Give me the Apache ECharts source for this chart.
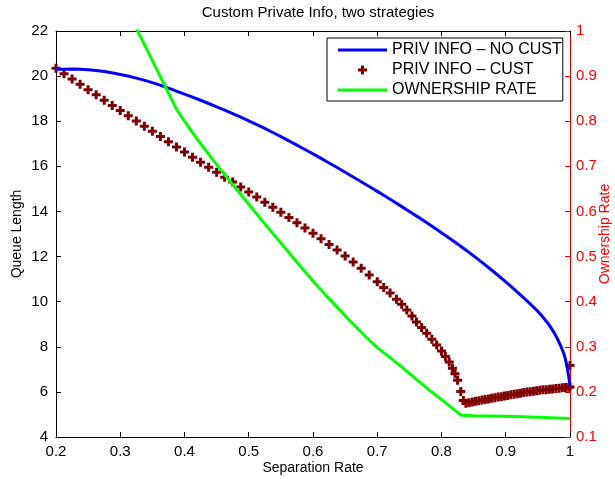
<!DOCTYPE html>
<html>
<head>
<meta charset="utf-8">
<script src="https://cdn.jsdelivr.net/npm/echarts@6/dist/echarts.min.js"></script>
<style>
  html, body { margin: 0; padding: 0; background: #fff; }
  #chart { width: 615px; height: 479px; }
</style>
</head>
<body>
<div id="chart"></div>
<script>
// Queue length without customisation (left axis)
const noCustX = [0.20, 0.225, 0.25, 0.275, 0.30, 0.325, 0.35, 0.375, 0.40, 0.425, 0.45, 0.475,
  0.50, 0.525, 0.55, 0.575, 0.60, 0.625, 0.65, 0.675, 0.70, 0.725, 0.75, 0.775, 0.80, 0.825,
  0.85, 0.875, 0.90, 0.925, 0.95, 0.96, 0.97, 0.98, 0.99, 0.995, 1.00];
const noCustQueue = [20.30, 20.31, 20.28, 20.20, 20.07, 19.91, 19.71, 19.47, 19.20, 18.93, 18.64, 18.34,
  18.02, 17.68, 17.32, 16.94, 16.55, 16.15, 15.74, 15.32, 14.89, 14.45, 14.00, 13.54, 13.06, 12.56,
  12.03, 11.47, 10.88, 10.25, 9.57, 9.24, 8.86, 8.38, 7.72, 7.18, 6.30];

// Queue length with customisation (left axis, markers)
const custX = [0.2000, 0.2125, 0.2250, 0.2375, 0.2500, 0.2625, 0.2750, 0.2875, 0.3000, 0.3125,
  0.3250, 0.3375, 0.3500, 0.3625, 0.3750, 0.3875, 0.4000, 0.4125, 0.4250, 0.4375, 0.4500, 0.4625,
  0.4750, 0.4875, 0.5000, 0.5125, 0.5250, 0.5375, 0.5500, 0.5625, 0.5750, 0.5875, 0.6000, 0.6125,
  0.6250, 0.6375, 0.6500, 0.6625, 0.6750, 0.6875, 0.7000, 0.7100, 0.7200, 0.7300, 0.7380, 0.7460,
  0.7540, 0.7610, 0.7690, 0.7770, 0.7850, 0.7925, 0.8000, 0.8060, 0.8120, 0.8170, 0.8210, 0.8250,
  0.8300, 0.8340,
  0.838, 0.843, 0.848, 0.853, 0.858, 0.863, 0.868, 0.873, 0.878, 0.883, 0.888, 0.893, 0.898, 0.903,
  0.908, 0.913, 0.918, 0.923, 0.928, 0.933, 0.938, 0.943, 0.948, 0.953, 0.958, 0.963, 0.968, 0.973,
  0.978, 0.983, 0.988, 0.993, 0.998, 1.000, 1.000];
const custQueue = [20.35, 20.11, 19.87, 19.64, 19.40, 19.17, 18.93, 18.70, 18.47, 18.24,
  18.01, 17.78, 17.55, 17.32, 17.09, 16.86, 16.63, 16.40, 16.18, 15.96, 15.74, 15.52,
  15.30, 15.08, 14.86, 14.64, 14.41, 14.19, 13.96, 13.73, 13.50, 13.27, 13.03, 12.79,
  12.54, 12.29, 12.03, 11.76, 11.48, 11.18, 10.88, 10.63, 10.38, 10.11, 9.88, 9.63,
  9.37, 9.10, 8.85, 8.60, 8.33, 8.08, 7.81, 7.57, 7.33, 7.05, 6.80, 6.52,
  6.02, 5.62,
  5.50, 5.52, 5.55, 5.58, 5.61, 5.64, 5.66, 5.69, 5.72, 5.74, 5.77, 5.79, 5.82, 5.84,
  5.87, 5.89, 5.92, 5.94, 5.97, 5.99, 6.01, 6.03, 6.05, 6.07, 6.09, 6.10, 6.12, 6.13,
  6.15, 6.16, 6.18, 6.19, 6.21, 6.22, 7.17];

// Ownership rate (right axis)
const ownX = [0.320, 0.327, 0.340, 0.355, 0.370, 0.387, 0.400, 0.420, 0.440, 0.460, 0.480, 0.500,
  0.520, 0.540, 0.560, 0.580, 0.600, 0.620, 0.640, 0.660, 0.680, 0.700, 0.720, 0.740, 0.760,
  0.780, 0.800, 0.820, 0.831, 0.850, 0.900, 0.950, 1.000];
const ownRate = [1.020, 1.000, 0.963, 0.920, 0.877, 0.828, 0.800, 0.760, 0.722, 0.686, 0.651, 0.616,
  0.581, 0.547, 0.513, 0.479, 0.446, 0.414, 0.384, 0.354, 0.325, 0.298, 0.276, 0.253, 0.229,
  0.205, 0.183, 0.160, 0.148, 0.147, 0.146, 0.144, 0.141];

// Axis ticks
const sepTicks = { min: 0.2, max: 1, interval: 0.1 };
const queueTicks = { min: 4, max: 22, interval: 2 };
const rateTicks = { min: 0.1, max: 1, interval: 0.1 };

const seriesNames = ['PRIV INFO \u2013 NO CUST', 'PRIV INFO \u2013 CUST', 'OWNERSHIP RATE'];

const zip = (xs, ys) => xs.map((x, i) => [x, ys[i]]);
const fmt = v => String(Math.round(v * 10) / 10);
const FONT = '"Liberation Sans", Arial, Helvetica, sans-serif';
const PLUS = 'path://M3,0H6V3H9V6H6V9H3V6H0V3H3Z';
// plain line sample used as the legend icon of the two curves
const LINE_ICON = 'path://M0,0H49V3H0Z';

const chart = echarts.init(document.getElementById('chart'), null, { renderer: 'canvas' });

chart.setOption({
  animation: false,
  backgroundColor: '#fff',
  textStyle: { fontFamily: FONT },
  title: {
    text: 'Custom Private Info, two strategies',
    left: 313, textAlign: 'center', top: 0,
    textStyle: { fontSize: 15, fontWeight: 'normal', color: '#000', fontFamily: FONT }
  },
  grid: { left: 56, right: 45, top: 31, bottom: 42, containLabel: false, outerBoundsMode: 'none' },
  legend: {
    data: [
      { name: seriesNames[0], icon: LINE_ICON, itemStyle: { color: '#0000ff' } },
      { name: seriesNames[1] },
      { name: seriesNames[2], icon: LINE_ICON, itemStyle: { color: '#00ff00' } }
    ],
    orient: 'vertical',
    left: 327, top: 38,
    padding: [4, 1, 3, 11],
    itemGap: 4,
    itemWidth: 49,
    itemHeight: 9,
    selectedMode: false,
    backgroundColor: '#fff',
    borderColor: '#000',
    borderWidth: 1,
    textStyle: { fontSize: 16, color: '#000', fontFamily: FONT }
  },
  xAxis: [
    Object.assign({
      type: 'value', position: 'bottom',
      name: 'Separation Rate', nameLocation: 'middle', nameGap: 24, nameMoveOverlap: false,
      nameTextStyle: { fontSize: 14, color: '#000', fontFamily: FONT },
      axisLine: { show: true, onZero: false, lineStyle: { color: '#000', width: 1 } },
      axisTick: { show: true, inside: true, length: 5, lineStyle: { color: '#000' } },
      axisLabel: { fontSize: 15, color: '#000', margin: 7, formatter: fmt, fontFamily: FONT },
      splitLine: { show: false }
    }, sepTicks),
    Object.assign({
      type: 'value', position: 'top',
      axisLine: { show: true, onZero: false, lineStyle: { color: '#000', width: 1 } },
      axisTick: { show: true, inside: true, length: 5, lineStyle: { color: '#000' } },
      axisLabel: { show: false },
      splitLine: { show: false }
    }, sepTicks)
  ],
  yAxis: [
    Object.assign({
      type: 'value', position: 'left',
      name: 'Queue Length', nameLocation: 'middle', nameGap: 32, nameRotate: 90, nameMoveOverlap: false,
      nameTextStyle: { fontSize: 14, color: '#000', fontFamily: FONT },
      axisLine: { show: true, onZero: false, lineStyle: { color: '#000', width: 1 } },
      axisTick: { show: true, inside: true, length: 5, lineStyle: { color: '#000' } },
      axisLabel: { fontSize: 15, color: '#000', margin: 8, fontFamily: FONT },
      splitLine: { show: false }
    }, queueTicks),
    Object.assign({
      type: 'value', position: 'right',
      name: 'Ownership Rate', nameLocation: 'middle', nameGap: 28, nameRotate: 90, nameMoveOverlap: false,
      nameTextStyle: { fontSize: 14, color: '#ff0000', fontFamily: FONT },
      axisLine: { show: true, onZero: false, lineStyle: { color: '#e00000', width: 1 } },
      axisTick: { show: true, inside: true, length: 5, lineStyle: { color: '#e00000' } },
      axisLabel: { fontSize: 15, color: '#ff0000', margin: 6, formatter: fmt, fontFamily: FONT },
      splitLine: { show: false }
    }, rateTicks)
  ],
  series: [
    {
      name: seriesNames[0], type: 'line', xAxisIndex: 0, yAxisIndex: 0,
      data: zip(noCustX, noCustQueue),
      symbol: 'none', smooth: 0.2,
      lineStyle: { color: '#0000ff', width: 3 },
      itemStyle: { color: '#0000ff' }
    },
    {
      name: seriesNames[1], type: 'scatter', xAxisIndex: 0, yAxisIndex: 0,
      data: zip(custX, custQueue),
      symbol: PLUS, symbolSize: 9, clip: false,
      itemStyle: { color: '#800000', opacity: 1 }
    },
    {
      name: seriesNames[2], type: 'line', xAxisIndex: 0, yAxisIndex: 1,
      data: zip(ownX, ownRate),
      symbol: 'none', smooth: false, clip: true,
      lineStyle: { color: '#00ff00', width: 3 },
      itemStyle: { color: '#00ff00' }
    }
  ]
});
</script>
</body>
</html>
